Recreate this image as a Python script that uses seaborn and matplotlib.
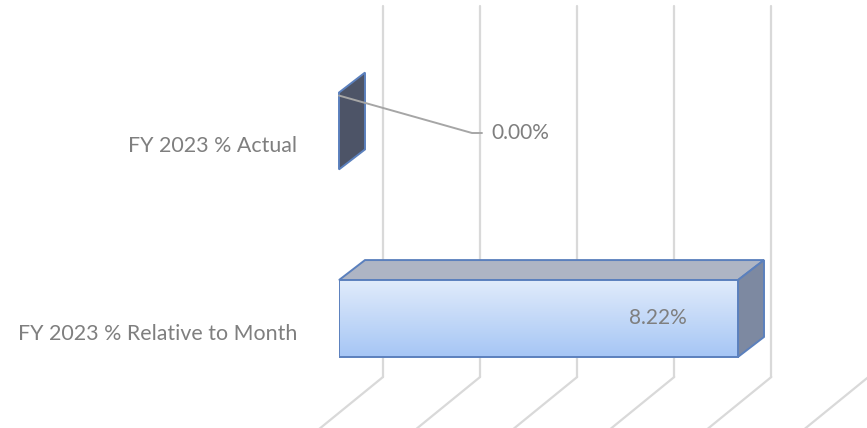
import numpy as np
import pandas as pd
import matplotlib
matplotlib.use("Agg")
import matplotlib.pyplot as plt
import seaborn as sns
from matplotlib.lines import Line2D
from matplotlib.patches import Polygon
from matplotlib.transforms import IdentityTransform

# ---------------- data ----------------
categories = ["FY 2023 % Actual", "FY 2023 % Relative to Month"]
values = [0.00, 8.22]
value_labels = ["0.00%", "8.22%"]
x_ticks = [0, 2, 4, 6, 8, 10]

# ---------------- style / layout ----------------
W, H, DPI = 867, 428, 100
sns.set_theme(style="white")
plt.rcParams['font.family'] = ['Lato', 'DejaVu Sans']

TEXT_C = "#7f7f7f"
GRID_C = "#d9d9d9"
EDGE_C = "#5b80bd"
FRONT_TOP = np.array([0xe0, 0xeb, 0xfb]) / 255
FRONT_BOT = np.array([0xa6, 0xc6, 0xf5]) / 255
TOP_C = "#aeb5c4"
SIDE_C = ["#4d5467", "#7d89a1"]
DEPTH = (26, 20)          # bar depth offset in px
WALL = (44, 35)           # back wall offset in px

fig = plt.figure(figsize=(W / DPI, H / DPI), dpi=DPI)
fig.patch.set_facecolor("white")
x0_px, x10_px = 339, 824.4
ax = fig.add_axes([x0_px / W, 0, (x10_px - x0_px) / W, 1])

df = pd.DataFrame({"category": categories, "value": values})
sns.barplot(data=df, x="value", y="category", orient="h", width=0.41,
            ax=ax, color="#c5daf8", edgecolor=EDGE_C, linewidth=1.4,
            saturation=1, zorder=3)

cat0_px, cat_step = 131, 187.5
ax.set_xlim(x_ticks[0], x_ticks[-1])
ax.set_ylim((H - cat0_px) / cat_step, -cat0_px / cat_step)
ax.axis("off")

def disp(x, y):
    return ax.transData.transform((x, y))

ident = IdentityTransform()

# back wall gridlines + floor
for v in x_ticks:
    xb = disp(v, 0)[0] + WALL[0]
    ax.add_line(Line2D([xb, xb], [H - 6, H - 377], transform=ident,
                       color=GRID_C, lw=1.6, zorder=0.5, clip_on=False))
    ax.add_line(Line2D([xb, xb - 70], [H - 377, H - 434], transform=ident,
                       color=GRID_C, lw=1.6, zorder=0.5, clip_on=False))

# 3D faces of bars
patches = list(ax.patches)
for i, p in enumerate(patches):
    x, y, w, h = p.get_x(), p.get_y(), p.get_width(), p.get_height()
    tl = disp(x, y); tr = disp(x + w, y)
    br = disp(x + w, y + h); bl = disp(x, y + h)
    d = np.array(DEPTH)
    if w > 0:
        top = Polygon([tl, tr, tr + d, tl + d], closed=True, transform=ident,
                      facecolor=TOP_C, edgecolor=EDGE_C, lw=1.4, zorder=2,
                      clip_on=False)
        ax.add_patch(top)
    side = Polygon([tr, br, br + d, tr + d], closed=True, transform=ident,
                   facecolor=SIDE_C[i], edgecolor=EDGE_C, lw=1.4, zorder=2,
                   clip_on=False)
    ax.add_patch(side)
    if w > 0:
        grad = np.linspace(0, 1, 64)[:, None, None]
        img = FRONT_TOP[None, None, :] * (1 - grad) + FRONT_BOT[None, None, :] * grad
        im = ax.imshow(img, extent=(x, x + w, y + h, y), origin="upper",
                       aspect="auto", zorder=2.9, interpolation="bilinear")
        im.set_clip_path(p)
        p.set_facecolor("none")
    else:
        p.set_visible(False)

ax.set_xlim(x_ticks[0], x_ticks[-1])
ax.set_ylim((H - cat0_px) / cat_step, -cat0_px / cat_step)

renderer = fig.canvas.get_renderer()

def fit(t, target_w):
    fs = t.get_fontsize()
    wcur = t.get_window_extent(renderer).width
    t.set_fontsize(fs * target_w / wcur)

# category labels
cat_texts = []
for i, c in enumerate(categories):
    cx, cy = disp(0, i)
    t = ax.text(cx - 42, cy - 15, c, transform=ident, ha="right", va="center",
                color=TEXT_C, fontsize=14, clip_on=False)
    cat_texts.append(t)
fit(cat_texts[1], 279)
for t in cat_texts:
    t.set_fontsize(cat_texts[1].get_fontsize())

# data labels
p0 = patches[0]
sx, sy = disp(p0.get_x(), p0.get_y())
lab_y = disp(0, 0)[1] - 2
ax.add_line(Line2D([sx, sx + 133, sx + 143], [sy - 3, lab_y, lab_y],
                   transform=ident, color="#a6a6a6", lw=1.4, zorder=4,
                   clip_on=False))
t0 = ax.text(sx + 152, lab_y, value_labels[0], transform=ident, ha="left",
             va="center", color=TEXT_C, fontsize=16, clip_on=False, zorder=5)
fit(t0, 58)

p1 = patches[1]
rx, ry = disp(p1.get_x() + p1.get_width(), 1)
t1 = ax.text(rx - 51, ry, value_labels[1], transform=ident, ha="right",
             va="center", color=TEXT_C, fontsize=t0.get_fontsize(),
             clip_on=False, zorder=5)

fig.savefig("out.png", dpi=DPI, facecolor="white")
